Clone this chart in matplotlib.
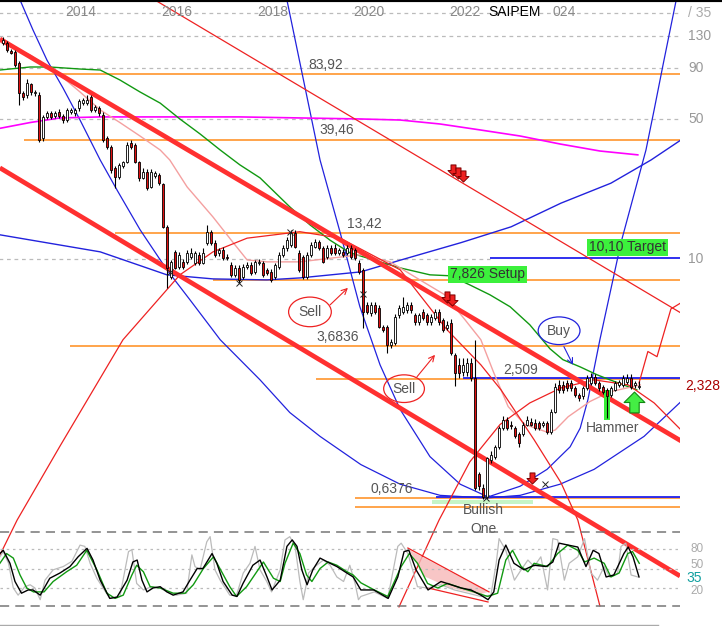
import numpy as np
import matplotlib.pyplot as plt
from matplotlib.path import Path
from matplotlib.lines import Line2D
from matplotlib.transforms import blended_transform_factory

plt.rcParams['font.family'] = ['Liberation Sans', 'DejaVu Sans']

# monthly candles, first one is May 2012 (decimal years on the x axis)
first_month = 2012.375
opens = [119.8, 119.8, 109.3, 108, 95.2, 67.4, 65.9, 74.8, 67.4, 65.9,
         40.2, 51.2, 53.6, 51.8, 54.2, 51.8, 49.4, 54.2, 53.6, 56.8,
         60.1, 60.1, 64.4, 55.5, 56.8, 52.4, 40.2, 36.3, 28.5, 25.7,
         29.2, 30.4, 38.0, 37.1, 30.4, 25.4, 27.2, 22.9, 26.0, 26.3,
         23.7, 14.5, 8.14, 10.85, 9.13, 9.67, 9.67, 10.26, 9.56, 10.5,
         9.56, 12.07, 13.68, 12.07, 10.74, 11.1, 10.26, 9.34, 8.33, 9.02,
         8.14, 9.13, 9.34, 8.62, 9.56, 9.56, 8.82, 8.62, 8.14, 9.13,
         10.5, 11.36, 11.8, 13.52, 10.74, 10.26, 8.14, 10.5, 11.53, 12.13,
         11.36, 10.26, 11.36, 11.36, 10.74, 10.85, 10.74, 11.36, 11.1, 9.56,
         8.82, 5.90, 5.38, 5.90, 5.70, 4.58, 4.58, 3.73, 3.82, 5.26,
         5.44, 5.57, 5.90, 5.26, 4.86, 5.44, 5.26, 4.86, 5.08, 5.44,
         4.97, 4.53, 4.80, 3.32, 2.96, 2.74, 2.74, 3.03, 2.55, 0.84,
         0.716, 0.648, 0.99, 1.03, 1.15, 1.43, 1.57, 1.49, 1.43, 1.33,
         1.33, 1.49, 1.53, 1.52, 1.52, 1.475, 1.52, 1.37, 1.73, 2.35,
         2.35, 2.40, 2.40, 2.27, 2.10, 2.06, 2.27, 2.40, 2.58, 2.40,
         2.30, 2.22, 2.10, 2.22, 2.35, 2.35, 2.43, 2.55, 2.35, 2.30]
closes = [124.0, 110.5, 106.8, 93.0, 67.4, 64.4, 75.6, 68.2, 68.2, 39.3,
          51.2, 53.6, 51.2, 53.6, 51.8, 49.4, 55.5, 55.5, 55.5, 61.5,
          62.2, 62.2, 55.5, 57.4, 53.6, 39.3, 36.3, 27.8, 25.7, 29.5,
          30.4, 37.1, 36.3, 30.4, 25.4, 27.2, 22.6, 27.2, 26.9, 23.9,
          14.5, 9.0, 9.67, 9.02, 10.5, 9.13, 10.74, 10.74, 10.74, 9.56,
          10.74, 13.68, 12.07, 10.5, 11.1, 10.12, 10.12, 8.33, 9.02, 7.86,
          9.13, 9.34, 8.52, 9.67, 9.67, 8.33, 8.52, 7.86, 9.34, 10.5,
          11.36, 12.4, 13.52, 11.53, 8.82, 8.14, 10.5, 11.8, 12.13, 11.36,
          9.67, 11.36, 10.74, 10.74, 11.1, 10.5, 11.36, 10.26, 10.12, 8.62,
          5.44, 5.44, 5.90, 5.44, 4.58, 4.43, 3.73, 3.86, 5.14, 5.70,
          5.77, 5.90, 5.57, 4.86, 5.26, 5.08, 4.86, 5.14, 5.44, 4.86,
          4.43, 4.69, 3.40, 2.70, 2.70, 2.96, 3.03, 2.55, 0.716, 0.733,
          0.648, 1.01, 1.05, 1.15, 1.43, 1.57, 1.43, 1.46, 1.30, 1.21,
          1.49, 1.57, 1.49, 1.43, 1.43, 1.52, 1.37, 1.73, 2.30, 2.22,
          2.22, 2.27, 2.27, 2.10, 2.03, 2.27, 2.55, 2.58, 2.40, 2.27,
          2.17, 2.06, 2.27, 2.40, 2.43, 2.55, 2.55, 2.30, 2.40, 2.328]
highs = [128, 122, 112, 110, 97, 69, 79.2, 76, 70, 68,
         52.5, 55, 55, 55, 56, 53, 56.5, 57, 57, 63,
         64, 65.9, 66, 59, 58, 54, 41, 37, 29, 30,
         31, 38.5, 39.3, 38, 31, 28.5, 28, 28, 27.5, 27,
         24, 14.8, 9.9, 11.1, 10.8, 10.0, 11.1, 11.3, 11.0, 10.8,
         11.3, 14.8, 14.0, 12.4, 11.4, 11.5, 10.6, 9.6, 9.3, 9.3,
         9.4, 9.6, 9.6, 9.9, 10.0, 9.8, 9.0, 8.9, 9.5, 10.8,
         11.7, 12.8, 14.0, 14.0, 11.1, 10.5, 10.8, 12.1, 12.6, 12.5,
         11.6, 11.7, 11.7, 11.9, 11.4, 11.2, 11.7, 11.7, 11.4, 9.9,
         9.0, 6.1, 6.1, 6.1, 5.9, 4.7, 4.7, 4.0, 5.3, 5.9,
         6.47, 6.1, 6.1, 5.4, 5.4, 5.6, 5.4, 5.3, 5.6, 5.6,
         5.1, 4.9, 5.0, 3.4, 3.2, 3.2, 3.2, 3.2, 3.95, 0.86,
         0.75, 1.03, 1.10, 1.18, 1.47, 1.65, 1.62, 1.55, 1.47, 1.36,
         1.53, 1.65, 1.60, 1.58, 1.56, 1.56, 1.56, 1.78, 2.40, 2.50,
         2.45, 2.48, 2.48, 2.32, 2.15, 2.32, 2.62, 2.70, 2.65, 2.45,
         2.35, 2.26, 2.32, 2.45, 2.5, 2.62, 2.65, 2.65, 2.45, 2.45]
lows = [117, 108, 105, 91, 58.7, 62, 64, 66, 65, 38.5,
        39, 50, 50, 50.5, 50.5, 48, 48.5, 53, 52, 55,
        59, 59, 54, 54, 52, 38.5, 35.5, 27, 22.6, 25,
        28.5, 30, 35.5, 30, 24.5, 25, 22, 22.5, 25.5, 23.5,
        14.2, 7.2, 7.9, 8.9, 8.9, 8.9, 9.4, 10.0, 9.3, 9.3,
        9.4, 11.8, 11.8, 10.2, 10.4, 9.9, 9.9, 8.1, 8.1, 7.59,
        7.9, 8.9, 8.3, 8.4, 9.3, 8.1, 8.3, 7.7, 7.9, 8.9,
        10.2, 11.0, 11.5, 11.3, 8.6, 7.9, 7.9, 10.2, 11.3, 11.1,
        9.5, 10.0, 10.5, 10.5, 10.5, 10.2, 10.5, 10.0, 9.9, 8.4,
        4.53, 5.3, 5.2, 5.3, 4.5, 4.3, 3.40, 3.6, 3.7, 5.1,
        5.3, 5.4, 5.4, 4.7, 4.7, 4.95, 4.7, 4.7, 4.95, 4.7,
        4.3, 4.4, 3.3, 2.32, 2.55, 2.6, 2.6, 2.45, 0.70, 0.70,
        0.63, 0.63, 0.96, 1.0, 1.12, 1.40, 1.40, 1.42, 1.27, 1.15,
        1.30, 1.46, 1.46, 1.40, 1.40, 1.44, 1.33, 1.33, 1.70, 2.15,
        2.15, 2.2, 2.2, 2.05, 1.95, 2.0, 2.22, 2.35, 2.35, 2.2,
        2.12, 1.61, 2.05, 2.18, 2.3, 2.3, 2.38, 2.25, 2.28, 2.25]
hammer_idx = 151
last_price = 2.328

# averages (decimal year, price)
ma_green_t = [2012.31, 2012.94, 2013.35, 2013.98, 2014.40, 2014.81, 2015.23, 2015.65, 2016.06, 2016.48,
              2016.90, 2017.31, 2017.73, 2018.35, 2018.77, 2019.19, 2019.60, 2020.23, 2020.65, 2021.27,
              2021.69, 2022.10, 2022.52, 2022.94, 2023.35, 2023.77, 2024.04, 2024.40, 2024.75, 2025.02, 2025.58]
ma_green = [87.8, 90.9, 90.9, 88.8, 87.8, 78.3, 68.2, 60.0, 50.0, 42.1,
            35.0, 29.5, 25.4, 18.2, 14.8, 12.4, 10.74, 9.67, 9.02, 8.33,
            8.24, 7.42, 6.62, 5.77, 4.69, 3.56, 3.14, 2.89, 2.64, 2.49, 2.22]
ma_pink_t = [2012.31, 2012.94, 2013.56, 2013.98, 2014.40, 2014.81, 2015.23, 2015.65, 2015.85, 2016.21,
             2016.75, 2017.17, 2017.46, 2017.875, 2018.56, 2019.25, 2019.83, 2020.44, 2021.06, 2021.58,
             2022.00, 2022.33, 2022.60, 2022.90, 2023.25, 2023.73, 2023.88, 2024.15, 2024.60, 2025.02, 2025.65]
ma_pink = [121.2, 104.4, 82.9, 68.2, 55.5, 48.0, 41.1, 35.0, 31.2, 22.9,
           16.2, 12.07, 9.89, 9.67, 9.67, 10.12, 10.5, 9.67, 7.86, 6.62,
           4.97, 3.95, 2.70, 1.83, 1.49, 1.36, 1.40, 1.63, 1.94, 2.17, 2.35]
ma_long_t = [2012.31, 2012.94, 2013.56, 2014.40, 2017.31, 2019.83, 2020.65, 2021.48, 2022.31, 2023.15,
             2023.98, 2024.81, 2025.60]
ma_long = [44.9, 48.0, 50.6, 51.2, 51.2, 50.0, 49.4, 47.2, 44.1, 41.1, 37.5, 34.6, 33.1]

# trend channel and drawn lines (decimal year, price)
chan_up_t, chan_up = [2012.31, 2026.5], [125.4, 1.234]
chan_lo_t, chan_lo = [2012.31, 2026.48], [28.5, 0.261]
red_thin_t, red_thin = [2015.54, 2026.5], [196.4, 5.37]
arc_big_t = [2012.31, 2012.67, 2013.56, 2014.875, 2016.06, 2016.75, 2017.46, 2018.56, 2019.40, 2020.65,
             2021.625, 2022.33, 2022.75, 2023.44, 2024.0, 2024.35, 2024.81]
arc_big = [0.332, 0.497, 1.16, 3.95, 8.33, 10.85, 12.7, 13.68, 12.7, 8.82,
           4.43, 2.96, 2.22, 1.25, 0.763, 0.497, 0.185]
arc_low_t = [2020.625, 2021.46, 2022.10, 2022.73, 2023.35, 2024.0, 2024.69, 2025.40, 2025.94, 2026.5]
arc_low = [0.183, 0.497, 0.97, 1.49, 1.91, 2.27, 2.49, 2.35, 1.91, 1.40]
proj_t = [2025.625, 2025.81, 2026.0, 2026.29, 2026.5]
proj = [2.40, 3.45, 3.25, 5.63, 6.04]

blue_wide_t = [2012.73, 2013.0, 2013.29, 2013.625, 2013.98, 2014.40, 2014.75, 2015.23, 2015.79, 2016.27,
               2016.90, 2017.73, 2018.35, 2018.98, 2019.83, 2020.65, 2021.48, 2022.44, 2023.15, 2023.98,
               2024.69, 2025.73, 2026.5]
blue_wide = [196.4, 139.1, 98.5, 71.4, 49.4, 31.2, 22.1, 14.0, 8.82, 6.25,
             3.95, 2.49, 1.71, 1.30, 0.94, 0.75, 0.66, 0.64, 0.66, 0.75,
             0.89, 1.30, 1.94]
blue_narrow_t = [2018.29, 2018.98, 2019.40, 2019.81, 2020.23, 2020.65, 2021.27, 2021.90, 2022.48, 2023.15,
                 2023.71, 2024.19, 2024.40, 2024.56, 2024.81, 2025.25, 2025.77, 2025.94, 2026.125, 2026.40]
blue_narrow = [196.4, 31.2, 13.52, 5.77, 2.96, 1.77, 1.03, 0.75, 0.648, 0.733,
               0.89, 1.153, 1.43, 1.98, 3.95, 12.07, 35.0, 55.5, 93.0, 196.4]
blue_flat_t = [2012.31, 2014.40, 2015.79, 2016.75, 2017.875, 2018.56, 2019.83, 2020.67, 2021.92, 2022.96,
               2024.0, 2025.04, 2025.875, 2026.5]
blue_flat = [13.2, 10.85, 8.33, 7.95, 7.86, 8.04, 8.62, 9.89, 12.07, 14.47,
             19.0, 23.9, 31.2, 39.3]

# horizontal levels
orange_levels = [83.92, 39.46, 13.42, 7.826, 3.6836, 2.509, 0.6376, 0.578]
orange_from = [2012.31, 2012.81, 2014.71, 2016.75, 2013.77, 2018.90, 2019.71, 2019.71]
blue_levels = [10.10, 2.55, 0.648]
blue_from = [2022.52, 2021.96, 2021.40]
grid_levels = [169, 130, 90, 50]
level_text = ['83,92', '39,46', '13,42', '3,6836', '2,509', '0,6376']
level_text_val = [83.92, 39.46, 13.42, 3.6836, 2.509, 0.6376]
level_text_t = [2018.73, 2018.96, 2019.54, 2018.90, 2022.79, 2020.04]
right_ticks = [130, 90, 50, 10]
years = [2014, 2016, 2018, 2020, 2022, 2024]
# the title hides the first digit of the last year label
year_labels = ['2014', '2016', '2018', '2020', '2022', '024']

# signals
down_t = [2021.75, 2021.85, 2021.96, 2021.625, 2021.73, 2023.40]
down_p = [27.8, 26.9, 26.0, 6.47, 6.25, 0.81]
up_t, up_p = [2025.52], [1.94]
pivot_t = [2015.85, 2017.29, 2018.35, 2019.875, 2022.44, 2023.67]
pivot_p = [8.62, 7.59, 13.68, 6.69, 0.64, 0.75]

# stochastic oscillator (decimal year, value)
osc_k_t = [2012.31, 2012.38, 2012.52, 2012.625, 2012.76, 2012.90, 2013.00, 2013.15, 2013.35, 2013.56,
           2013.77, 2013.94, 2014.125, 2014.25, 2014.40, 2014.60, 2014.75, 2014.96, 2015.08, 2015.17,
           2015.27, 2015.375, 2015.50, 2015.65, 2015.79, 2015.92, 2016.125, 2016.27, 2016.42, 2016.54,
           2016.73, 2016.83, 2016.96, 2017.15, 2017.25, 2017.375, 2017.58, 2017.73, 2017.875, 2017.98,
           2018.15, 2018.29, 2018.40, 2018.50, 2018.60, 2018.71, 2018.83, 2018.98, 2019.19, 2019.33,
           2019.54, 2019.67, 2019.83, 2020.10, 2020.40, 2020.60, 2020.73, 2020.83, 2020.98, 2021.23,
           2021.50, 2021.71, 2021.92, 2022.125, 2022.33, 2022.48, 2022.60, 2022.71, 2022.85, 2023.02,
           2023.23, 2023.44, 2023.69, 2023.83, 2023.96, 2024.15, 2024.35, 2024.52, 2024.67, 2024.79,
           2024.94, 2025.10, 2025.31, 2025.40, 2025.50, 2025.625]
osc_k = [73, 78, 58, 30, 12, 17, 17, 9, 35, 43,
         53, 68, 81, 63, 32, 4, 6, 32, 60, 63,
         32, 14, 20, 22, 14, 9, 14, 32, 50, 50,
         73, 58, 30, 9, 7, 27, 55, 63, 37, 17,
         32, 84, 94, 84, 48, 25, 48, 66, 58, 53,
         43, 37, 17, 17, 4, 37, 76, 78, 48, 17,
         30, 25, 20, 17, 9, 2, 14, 63, 86, 58,
         48, 55, 53, 60, 89, 86, 83, 53, 78, 73,
         37, 40, 73, 83, 68, 37]
osc_d_t = [2012.31, 2012.45, 2012.59, 2012.73, 2012.87, 2013.01, 2013.23, 2013.42, 2013.70, 2013.91,
           2014.12, 2014.33, 2014.54, 2014.71, 2014.88, 2015.06, 2015.16, 2015.30, 2015.44, 2015.65,
           2015.92, 2016.17, 2016.34, 2016.55, 2016.76, 2016.93, 2017.10, 2017.24, 2017.45, 2017.80,
           2018.01, 2018.15, 2018.25, 2018.42, 2018.56, 2018.70, 2018.81, 2018.98, 2019.15, 2019.33,
           2019.54, 2019.67, 2019.83, 2020.11, 2020.39, 2020.67, 2020.84, 2021.01, 2021.22, 2021.43,
           2021.64, 2021.92, 2022.19, 2022.47, 2022.68, 2022.85, 2022.99, 2023.17, 2023.31, 2023.44,
           2023.72, 2023.93, 2024.14, 2024.35, 2024.49, 2024.69, 2024.90, 2025.04, 2025.21, 2025.39,
           2025.49, 2025.63]
osc_d = [58, 73, 66, 40, 20, 14, 14, 30, 45, 55,
         78, 48, 12, 4, 9, 40, 55, 45, 22, 20,
         12, 12, 25, 50, 68, 45, 22, 7, 22, 60,
         35, 30, 58, 89, 73, 40, 30, 50, 60, 55,
         45, 40, 28, 17, 7, 53, 73, 58, 27, 20,
         27, 20, 14, 7, 12, 63, 78, 53, 45, 58,
         53, 73, 86, 78, 60, 66, 58, 37, 43, 73,
         76, 58]
osc_raw_t = [2012.31, 2012.38, 2012.49, 2012.59, 2012.69, 2012.83, 2012.94, 2013.04, 2013.15, 2013.25,
             2013.42, 2013.63, 2013.81, 2013.98, 2014.08, 2014.19, 2014.33, 2014.46, 2014.60, 2014.81,
             2014.99, 2015.06, 2015.16, 2015.30, 2015.47, 2015.65, 2015.79, 2015.99, 2016.20, 2016.31,
             2016.375, 2016.48, 2016.62, 2016.69, 2016.79, 2016.90, 2017.10, 2017.24, 2017.38, 2017.52,
             2017.625, 2017.73, 2017.87, 2017.97, 2018.15, 2018.25, 2018.35, 2018.46, 2018.56, 2018.63,
             2018.74, 2018.875, 2019.05, 2019.19, 2019.33, 2019.47, 2019.60, 2019.71, 2019.78, 2019.83,
             2020.11, 2020.39, 2020.60, 2020.67, 2020.81, 2021.01, 2021.22, 2021.50, 2021.78, 2022.06,
             2022.33, 2022.54, 2022.65, 2022.71, 2022.85, 2023.03, 2023.17, 2023.31, 2023.44, 2023.58,
             2023.72, 2023.83, 2023.93, 2024.07, 2024.17, 2024.35, 2024.49, 2024.625, 2024.76, 2024.90,
             2025.01, 2025.18, 2025.25, 2025.35, 2025.46, 2025.60]
osc_raw = [68, 76, 58, 20, 9, 22, 25, 20, 2, 32,
           48, 53, 61, 86, 84, 58, 35, 20, 4, 7,
           76, 79, 27, 17, 22, 20, 14, 9, 12, 71,
           53, 48, 91, 99, 48, 32, 9, 9, 43, 58,
           84, 48, 30, 14, 48, 94, 99, 84, 30, 2,
           43, 53, 63, 55, 37, 30, 55, 27, 2, 7,
           14, 4, 84, 89, 73, 22, 20, 25, 17, 12,
           7, 9, 58, 96, 78, 32, 48, 63, 53, 68,
           17, 96, 94, 32, 58, 68, 96, 43, 32, 53,
           37, 43, 84, 89, 40, 37]
wedge_t = [2020.83, 2022.48, 2022.30, 2021.70, 2021.15]
wedge_v = [79, 14, 10, 20, 38]
wedge_up_t, wedge_up = [2020.81, 2022.50], [81.5, 14]
wedge_lo_t, wedge_lo = [2021.23, 2022.48], [20, -1.5]
osc_levels = [80, 50, 20]
osc_label_pos = [80, 56, 16]
osc_last = 35

# ---------------------------------------------------------------
o = np.array(opens)
c = np.array(closes)
t = first_month + np.arange(len(c)) / 12

fig = plt.figure(figsize=(7.22, 6.26), dpi=100)
ax = fig.add_axes([0, 0, 680 / 722, 1])
ax.set_yscale('log')
ax.set_xlim(2012.3125, 2026.479)
ax.set_ylim(0.1469, 196.4)
ax.set_axis_off()
right = blended_transform_factory(ax.transAxes, ax.transData)
top = ax.get_xaxis_transform()

x_end = 2026.479
for v in grid_levels:
    ax.hlines(v, 2012.3, x_end, color='#bbbbbb', lw=0.9, ls=(0, (3, 3)), zorder=1)
ax.hlines(10, 2012.3, blue_from[0], color='#bbbbbb', lw=0.9, ls=(0, (3, 3)), zorder=1)
ax.hlines(orange_levels, orange_from, x_end, color='#ff8c1a', lw=1.1, zorder=1)
ax.hlines(blue_levels, blue_from, x_end, color='#2020ee', lw=1.3, zorder=1)
ax.fill_between([2021.31, 2023.42], 0.597, 0.625, color='#c6f5c6', lw=0, zorder=1)

ax.plot(blue_wide_t, blue_wide, color='#2222dd', lw=0.9, zorder=2)
ax.plot(blue_narrow_t, blue_narrow, color='#2222dd', lw=0.9, zorder=2)
ax.plot(blue_flat_t, blue_flat, color='#2222dd', lw=1.0, zorder=2)
ax.plot(ma_long_t, ma_long, color='#ff00ff', lw=1.2, zorder=2)
ax.plot(ma_green_t, ma_green, color='#119911', lw=1.0, zorder=2)
ax.plot(ma_pink_t, ma_pink, color='#f4a0a0', lw=1.0, zorder=2)
ax.plot(red_thin_t, red_thin, color='#ee2222', lw=0.9, zorder=2)
ax.plot(arc_big_t, arc_big, color='#ee2222', lw=0.9, zorder=2)
ax.plot(arc_low_t, arc_low, color='#ee2222', lw=0.9, zorder=2)
ax.plot(proj_t, proj, color='#ee2222', lw=0.9, zorder=2)
ax.plot(chan_up_t, chan_up, color='#ff3030', lw=3.4, zorder=3, solid_capstyle='butt')
ax.plot(chan_lo_t, chan_lo, color='#ff3030', lw=3.4, zorder=3, solid_capstyle='butt')

# hammer highlight, then the candles
ax.bar(t[hammer_idx], opens[hammer_idx] - lows[hammer_idx] * 0.975, bottom=lows[hammer_idx] * 0.975,
       width=0.12, color='#33ee33', zorder=3.5)
ax.vlines(t, lows, highs, color='black', lw=0.8, zorder=4)
ax.bar(t, np.abs(c - o), bottom=np.minimum(o, c), width=0.06,
       color=np.where(c >= o, 'white', '#e01010'), edgecolor='black', linewidth=0.6, zorder=5)

up_verts = [(0, 1), (1, 0), (0.45, 0), (0.45, -1), (-0.45, -1), (-0.45, 0), (-1, 0), (0, 1)]
up_arrow = Path(up_verts, closed=True)
down_arrow = Path([(x, -y) for x, y in up_verts], closed=True)
ax.plot(down_t, down_p, ls='none', marker=down_arrow, ms=8, mfc='#ee2020', mec='#7a0000', mew=0.7, zorder=6)
ax.plot(up_t, up_p, ls='none', marker=up_arrow, ms=15, mfc='#44ee44', mec='#118811', mew=0.8, zorder=6)
ax.plot(pivot_t, pivot_p, ls='none', marker='x', ms=5, color='#222222', mew=0.7, zorder=6)

for txt, v, x0 in zip(level_text, level_text_val, level_text_t):
    ax.annotate(txt, (x0, v), xytext=(0, 1.5), textcoords='offset points',
                fontsize=10, color='#555555', va='bottom', ha='left', zorder=7)

box = dict(boxstyle='square,pad=0.12', fc='#3cf03c', ec='none')
ax.text(2021.69, 8.38, '7,826 Setup', fontsize=10, color='#333333', va='center', bbox=box, zorder=7)
ax.text(2024.58, 11.42, '10,10 Target', fontsize=10, color='#333333', va='center', bbox=box, zorder=7)

ax.text(2018.77, 5.44, 'Sell', fontsize=10, color='#555555', ha='center', va='center', zorder=7,
        bbox=dict(boxstyle='ellipse,pad=0.25', fc='none', ec='#ee2222', lw=0.9))
ax.text(2020.73, 2.25, 'Sell', fontsize=10, color='#555555', ha='center', va='center', zorder=7,
        bbox=dict(boxstyle='ellipse,pad=0.2', fc='none', ec='#ee2222', lw=0.9))
ax.text(2023.96, 4.38, 'Buy', fontsize=10, color='#555555', ha='center', va='center', zorder=7,
        bbox=dict(boxstyle='ellipse,pad=0.2', fc='none', ec='#2222dd', lw=0.9))
for (x0, y0, x1, y1, col) in [(2019.19, 5.90, 2019.56, 7.17, '#ee2222'),
                              (2021.00, 2.58, 2021.375, 3.32, '#ee2222'),
                              (2024.06, 3.65, 2024.25, 2.96, '#2222dd')]:
    ax.annotate('', xy=(x1, y1), xytext=(x0, y0),
                arrowprops=dict(arrowstyle='->', color=col, lw=0.8, shrinkA=0, shrinkB=0), zorder=7)

ax.text(2025.08, 1.43, 'Hammer', fontsize=10, color='#555555', ha='center', va='center', zorder=7)
ax.text(2022.375, 0.555, 'Bullish', fontsize=10, color='#555555', ha='center', va='center', zorder=7)
ax.text(2022.375, 0.446, 'One', fontsize=10, color='#555555', ha='center', va='center', zorder=7)

for yr, lab in zip(years, year_labels):
    if len(lab) == 4:
        ax.text(yr, 1 - 12 / 626, lab, transform=top, fontsize=10, color='#888888',
                ha='center', va='center', zorder=7)
    else:
        ax.annotate(lab, (yr, 1 - 12 / 626), xycoords=top, xytext=(10.5, 0), textcoords='offset points',
                    fontsize=10, color='#888888', ha='right', va='center', zorder=7)
ax.text(2023.03, 1 - 12 / 626, 'SAIPEM', transform=top, fontsize=10, color='black',
        ha='center', va='center', zorder=8)

for v in right_ticks:
    ax.text(1.012, v, str(v), transform=right, fontsize=10, color='#999999', va='center', clip_on=False)
ax.text(1.008, last_price, f'{last_price:.3f}'.replace('.', ','), transform=right,
        fontsize=10, color='#aa0000', va='center', clip_on=False)
ax.text(1.012, 169, '/ 35', transform=right, fontsize=10, color='#aaaaaa', va='center', clip_on=False)

# oscillator panel
osc = fig.add_axes([0, 18.5 / 626, 680 / 722, 78 / 626])
osc.set_xlim(2012.3125, 2026.479)
osc.set_ylim(-10, 110)
osc.set_axis_off()
osc.patch.set_alpha(0)
for v in [106, -7]:
    osc.axhline(v, color='#777777', lw=1.1, ls=(0, (6, 4)))
for v in osc_levels:
    osc.axhline(v, color='#bbbbbb', lw=0.9, ls=(0, (2, 3)))
osc.fill(wedge_t, wedge_v, color='#f7b8b8', alpha=0.8, lw=0)
osc.plot(wedge_up_t, wedge_up, color='#ee2222', lw=0.9)
osc.plot(wedge_lo_t, wedge_lo, color='#ee2222', lw=0.9)
osc.plot(osc_raw_t, osc_raw, color='#bbbbbb', lw=0.9)
osc.plot(osc_d_t, osc_d, color='#119911', lw=1.0)
osc.plot(osc_k_t, osc_k, color='black', lw=1.0)
ot = blended_transform_factory(osc.transAxes, osc.transData)
for v, pos in zip(osc_levels, osc_label_pos):
    osc.text(1.015, pos, str(v), transform=ot, fontsize=8.5, color='#aaaaaa', va='center', clip_on=False)
osc.text(1.009, osc_last, str(osc_last), transform=ot, fontsize=10, color='#11a0a0', va='center',
         clip_on=False)

fig.add_artist(Line2D([0, 1], [1, 1], transform=fig.transFigure, color='black', lw=3))
fig.add_artist(Line2D([0, 658 / 722], [1.5 / 626, 1.5 / 626], transform=fig.transFigure, color='#aaaaaa', lw=1))

fig.savefig('out.png', dpi=100)
